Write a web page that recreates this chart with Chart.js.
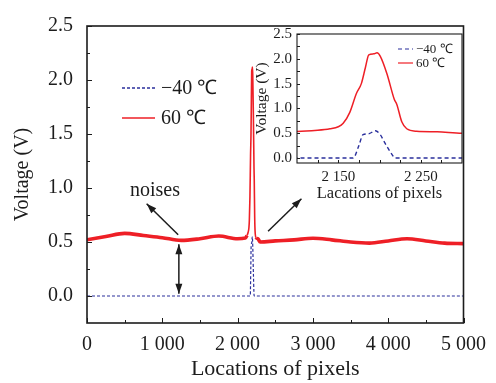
<!DOCTYPE html>
<html>
<head>
<meta charset="utf-8">
<script src="https://cdn.jsdelivr.net/npm/chart.js@4.4.1/dist/chart.umd.min.js"></script>
<style>
  html, body { margin: 0; padding: 0; background: #fff; }
  #wrap { position: relative; width: 496px; height: 383px; }
  #main { position: absolute; left: 0; top: 0; }
  #inset { position: absolute; left: 250px; top: 20px; }
</style>
</head>
<body>
<div id="wrap">
  <canvas id="main" width="496" height="383"></canvas>
  <canvas id="inset" width="220" height="185"></canvas>
</div>
<script>
// pixel locations and voltages
const hotX = [0, 250, 500, 750, 1000, 1250, 1500, 1750, 2000, 2100, 2125, 2140, 2150, 2156, 2164, 2172, 2178, 2183, 2187, 2193, 2197, 2201, 2209, 2218, 2221, 2227, 2233, 2245, 2270, 2300, 2500, 2750, 3000, 3250, 3500, 3750, 4000, 4250, 4500, 4750, 5000];
const hotV = [0.52, 0.55, 0.58, 0.56, 0.54, 0.515, 0.53, 0.555, 0.53, 0.536, 0.56, 0.59, 0.63, 0.70, 0.92, 1.30, 1.50, 1.83, 2.08, 2.10, 2.12, 2.05, 1.70, 1.18, 1.08, 0.73, 0.59, 0.54, 0.53, 0.50, 0.51, 0.52, 0.535, 0.52, 0.50, 0.49, 0.51, 0.53, 0.51, 0.49, 0.485];

const coldX = [0, 2168, 2175, 2180, 2187, 2195, 2201, 2206, 2211, 2216, 2219, 5000];
const coldV = [0, 0, 0.25, 0.47, 0.49, 0.55, 0.47, 0.32, 0.18, 0.05, 0, 0];

const seriesNames = ['\u221240 \u2103', '60 \u2103'];

const mainXTicks = [0, 1000, 2000, 3000, 4000, 5000];
const mainXMinor = [500, 1500, 2500, 3500, 4500];
const mainYTicks = [0, 0.5, 1.0, 1.5, 2.0, 2.5];
const mainYMinor = [0.25, 0.75, 1.25, 1.75, 2.25];

const insetXTicks = [2150, 2250];
const insetXMinor = [2125, 2175, 2200, 2225, 2275];
const insetYTicks = [0, 0.5, 1.0, 1.5, 2.0, 2.5];
const insetYMinor = [0.25, 0.75, 1.25, 1.75, 2.25];

const RED = '#ee1f26';
const BLUE = '#2a2f9c';
const INK = '#1c1c1c';
const SERIF = "'Liberation Serif', 'Times New Roman', serif";

const toPoints = (xs, ys) => xs.map((x, i) => ({ x: x, y: ys[i] }));
const spaced = v => String(v).replace(/\B(?=(\d{3})+(?!\d))/g, ' ');

// box around the plot with inward tick marks
const framePlugin = {
  id: 'frame',
  afterDatasetsDraw(chart, args, opts) {
    const { ctx, chartArea: a } = chart;
    const x = chart.scales.x, y = chart.scales.y;
    ctx.save();
    ctx.strokeStyle = INK;
    ctx.lineWidth = opts.width;
    ctx.strokeRect(a.left, a.top, a.right - a.left, a.bottom - a.top);
    ctx.lineWidth = 1;
    ctx.beginPath();
    const markX = (vals, len) => vals.forEach(v => {
      const px = Math.round(x.getPixelForValue(v)) + 0.5;
      ctx.moveTo(px, a.bottom);
      ctx.lineTo(px, a.bottom - len);
    });
    const markY = (vals, len) => vals.forEach(v => {
      const py = Math.round(y.getPixelForValue(v)) + 0.5;
      ctx.moveTo(a.left, py);
      ctx.lineTo(a.left + len, py);
    });
    markX(opts.xMajor, opts.major);
    markX(opts.xMinor, opts.minor);
    markY(opts.yMajor, opts.major);
    markY(opts.yMinor, opts.minor);
    ctx.stroke();
    ctx.restore();
  }
};

// hand placed legend, styles taken from the datasets
const keyPlugin = {
  id: 'key',
  afterDraw(chart, args, opts) {
    const ctx = chart.ctx;
    ctx.save();
    chart.data.datasets.forEach((ds, i) => {
      const yy = opts.y[i];
      ctx.strokeStyle = ds.borderColor;
      ctx.lineWidth = opts.lineWidth;
      ctx.setLineDash(ds.borderDash || []);
      ctx.beginPath();
      ctx.moveTo(opts.x1, yy);
      ctx.lineTo(opts.x2, yy);
      ctx.stroke();
      ctx.setLineDash([]);
      ctx.fillStyle = INK;
      ctx.font = opts.size + 'px ' + SERIF;
      ctx.textBaseline = 'middle';
      ctx.fillText(ds.label, opts.textX, yy + 1);
    });
    ctx.restore();
  }
};

// "noises" note and arrows, placed in data units
const noteText = { text: 'noises', at: [902, 0.97] };
const noteArrows = [
  { from: [1211, 0.567], to: [792, 0.855], both: false },
  { from: [2405, 0.60], to: [2848, 0.90], both: false },
  { from: [1220, 0.02], to: [1220, 0.48], both: true }
];

function arrowHead(ctx, x0, y0, x1, y1) {
  const ang = Math.atan2(y1 - y0, x1 - x0);
  const len = 10, half = 3.5;
  ctx.beginPath();
  ctx.moveTo(x1, y1);
  ctx.lineTo(x1 - len * Math.cos(ang) + half * Math.sin(ang), y1 - len * Math.sin(ang) - half * Math.cos(ang));
  ctx.lineTo(x1 - len * Math.cos(ang) - half * Math.sin(ang), y1 - len * Math.sin(ang) + half * Math.cos(ang));
  ctx.closePath();
  ctx.fill();
}

const notePlugin = {
  id: 'note',
  afterDatasetsDraw(chart) {
    const { ctx } = chart;
    const x = chart.scales.x, y = chart.scales.y;
    ctx.save();
    ctx.strokeStyle = INK;
    ctx.fillStyle = INK;
    ctx.lineWidth = 1.5;
    noteArrows.forEach(ar => {
      const x0 = x.getPixelForValue(ar.from[0]), y0 = y.getPixelForValue(ar.from[1]);
      const x1 = x.getPixelForValue(ar.to[0]), y1 = y.getPixelForValue(ar.to[1]);
      ctx.beginPath();
      ctx.moveTo(x0, y0);
      ctx.lineTo(x1, y1);
      ctx.stroke();
      arrowHead(ctx, x0, y0, x1, y1);
      if (ar.both) arrowHead(ctx, x1, y1, x0, y0);
    });
    ctx.font = '20px ' + SERIF;
    ctx.textAlign = 'center';
    ctx.textBaseline = 'middle';
    ctx.fillText(noteText.text, x.getPixelForValue(noteText.at[0]), y.getPixelForValue(noteText.at[1]));
    ctx.restore();
  }
};

function makeDatasets(hotWidth, coldWidth, coldDash) {
  return [
    {
      label: seriesNames[0],
      data: toPoints(coldX, coldV),
      borderColor: BLUE,
      borderWidth: coldWidth,
      borderDash: coldDash,
      cubicInterpolationMode: 'monotone',
      pointRadius: 0,
      fill: false
    },
    {
      label: seriesNames[1],
      data: toPoints(hotX, hotV),
      borderColor: RED,
      borderWidth: hotWidth,
      cubicInterpolationMode: 'monotone',
      pointRadius: 0,
      fill: false,
      // the noisy baseline reads as a thick band, the steep flanks stay thin
      segment: {
        borderWidth: c => Math.abs(c.p1.y - c.p0.y) > 2 * Math.abs(c.p1.x - c.p0.x) ? Math.min(hotWidth, 1.6) : hotWidth
      }
    }
  ];
}

function axis(opts) {
  return {
    type: 'linear',
    min: opts.min,
    max: opts.max,
    afterBuildTicks: s => { s.ticks = opts.ticks.map(v => ({ value: v })); },
    afterFit: s => {
      if (opts.height) s.height = opts.height;
      if (opts.width) s.width = opts.width;
    },
    grid: { display: false, drawTicks: false },
    border: { display: false },
    ticks: {
      autoSkip: false,
      maxRotation: 0,
      padding: opts.pad,
      color: INK,
      font: { family: SERIF, size: opts.size },
      callback: opts.fmt
    },
    title: {
      display: true,
      text: opts.title,
      color: INK,
      font: { family: SERIF, size: opts.titleSize },
      padding: opts.titlePad
    }
  };
}

new Chart(document.getElementById('main'), {
  type: 'line',
  data: { datasets: makeDatasets(3.6, 1.2, [3, 2]) },
  options: {
    responsive: false,
    animation: false,
    layout: { padding: { top: 15, right: 32, left: 0, bottom: 0 } },
    scales: {
      x: axis({ min: 0, max: 5000, ticks: mainXTicks, height: 60, pad: 10, size: 20,
        fmt: v => spaced(v), title: 'Locations of pixels', titleSize: 22, titlePad: { top: 0, bottom: 1 } }),
      y: axis({ min: -0.25, max: 2.5, ticks: mainYTicks, width: 87, pad: 14, size: 20,
        fmt: v => v.toFixed(1), title: 'Voltage (V)', titleSize: 20, titlePad: { top: 11, bottom: 0 } })
    },
    plugins: {
      legend: { display: false },
      tooltip: { enabled: false },
      frame: { width: 1.6, major: 5, minor: 3, xMajor: mainXTicks, xMinor: mainXMinor, yMajor: mainYTicks, yMinor: mainYMinor },
      key: { x1: 122, x2: 155, y: [88, 118], textX: 161, size: 20, lineWidth: 1.4 }
    }
  },
  plugins: [framePlugin, keyPlugin, notePlugin]
});

new Chart(document.getElementById('inset'), {
  type: 'line',
  data: { datasets: makeDatasets(1.5, 1.4, [4, 3]) },
  options: {
    responsive: false,
    animation: false,
    layout: { padding: { top: 8, right: 8, left: 0, bottom: 0 } },
    scales: {
      x: axis({ min: 2100, max: 2300, ticks: insetXTicks, height: 42, pad: 5, size: 15,
        fmt: v => spaced(v), title: 'Lacations of pixels', titleSize: 16.5, titlePad: { top: 0, bottom: 1 } }),
      y: axis({ min: -0.1, max: 2.5, ticks: insetYTicks, width: 47, pad: 5, size: 15,
        fmt: v => v.toFixed(1), title: 'Voltage (V)', titleSize: 15.5, titlePad: { top: 3, bottom: 0 } })
    },
    plugins: {
      legend: { display: false },
      tooltip: { enabled: false },
      frame: { width: 1.1, major: 3, minor: 3, xMajor: insetXTicks, xMinor: insetXMinor, yMajor: insetYTicks, yMinor: insetYMinor },
      key: { x1: 148, x2: 163, y: [29, 43], textX: 166, size: 13, lineWidth: 1.2 }
    }
  },
  plugins: [framePlugin, keyPlugin]
});
</script>
</body>
</html>
